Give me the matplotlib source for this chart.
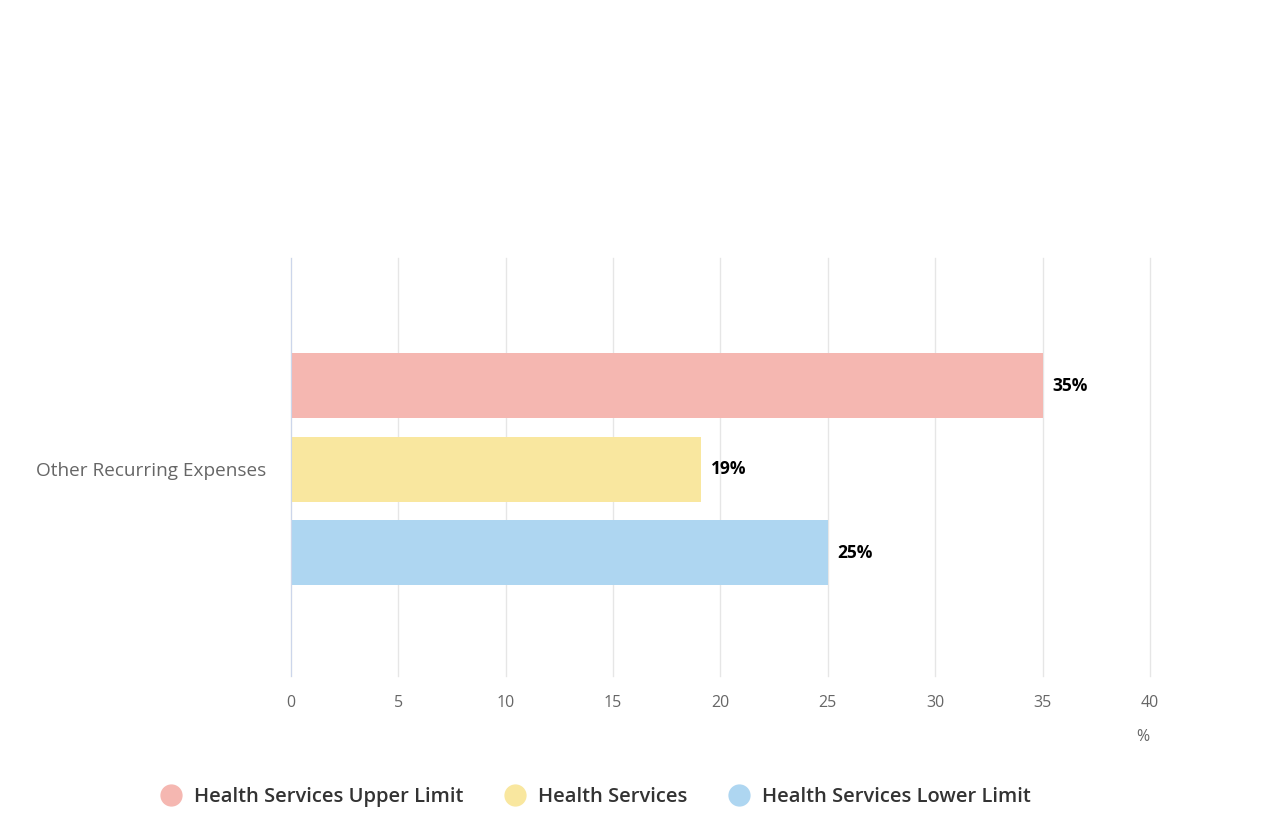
import matplotlib.pyplot as plt
from matplotlib.lines import Line2D

category = "Other Recurring Expenses"
series = ["Health Services Upper Limit", "Health Services", "Health Services Lower Limit"]
values = [35, 19.1, 25]
labels = ["35%", "19%", "25%"]
colors = ["#f5b7b1", "#f9e79f", "#aed6f1"]
xticks = [0, 5, 10, 15, 20, 25, 30, 35, 40]

plt.rcParams['font.family'] = ['Open Sans', 'DejaVu Sans']

fig = plt.figure(figsize=(12.63, 8.22), dpi=100)
ax = fig.add_axes([0.2304, 0.1776, 0.6801, 0.5085])

offsets = [-0.2, 0.0, 0.2]
for val, lab, col, off in zip(values, labels, colors, offsets):
    ax.barh(off, val, height=0.155, color=col, zorder=3)
    ax.text(val + 0.45, off, lab, va='center', ha='left', fontsize=12.5,
            fontweight='bold', color='#000000', zorder=4)

ax.set_xlim(0, 40)
ax.set_ylim(0.495, -0.505)
ax.set_xticks(xticks)
ax.set_xticklabels([str(t) for t in xticks])
ax.set_yticks([0])
ax.set_yticklabels([category])
ax.tick_params(axis='x', length=0, pad=14, labelsize=11.5, labelcolor='#666666')
ax.tick_params(axis='y', length=0, pad=18, labelsize=13.7, labelcolor='#666666')
ax.grid(axis='x', color='#e6e6e6', linewidth=1, zorder=0)
for gl in ax.get_xgridlines():
    gl.set_clip_on(False)
for s in ['top', 'right', 'bottom']:
    ax.spines[s].set_visible(False)
ax.spines['left'].set_color('#ccd6eb')
ax.spines['left'].set_zorder(5)

fig.text(1143 / 1263, 1 - 737 / 822, "%", ha='center', va='center',
         fontsize=11.5, color='#666666')

handles = [Line2D([], [], marker='o', linestyle='none', markersize=15,
                  markerfacecolor=c, markeredgecolor=c) for c in colors]
leg = fig.legend(handles, series, loc='center', bbox_to_anchor=(0.468, 1 - 797 / 822),
                 ncol=3, frameon=False, handletextpad=0.15, columnspacing=1.55,
                 prop={'size': 14.5, 'weight': 'semibold'})
for t in leg.get_texts():
    t.set_color('#333333')

fig.savefig('out.png', dpi=100)
